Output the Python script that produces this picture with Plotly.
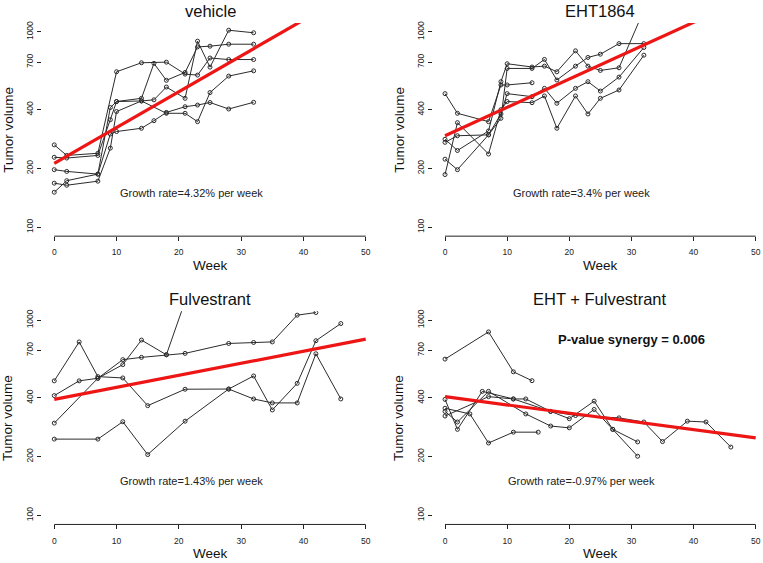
import numpy as np
import plotly.graph_objects as go

W, H = 763, 563

# ---------------- data ----------------
panel_titles = ["vehicle", "EHT1864", "Fulvestrant", "EHT + Fulvestrant"]
growth_rates = [4.32, 3.4, 1.43, -0.97]          # % per week
fit_start = [212, 294, 393, 406]                 # fitted volume at week 0

vehicle_weeks = [
    [0, 2, 7, 10, 14, 18, 21, 23, 25, 28, 32],
    [0, 2, 7, 9, 10, 14, 16, 18, 21, 23, 25, 28, 32],
    [0, 2, 7, 9, 10, 14, 16, 18, 21, 23, 25, 28, 32],
    [0, 2, 7, 9, 10, 14, 18, 21, 23, 25, 28, 32],
    [0, 2, 7, 9, 10, 14, 16, 18, 21, 23, 25, 28, 32],
]
vehicle_vols = [
    [264, 233, 239, 625, 695, 700, 608, 601, 735, 722, 722],
    [228, 226, 233, 355, 440, 457, 690, 565, 620, 838, 845, 865, 865],
    [197, 193, 187, 410, 440, 443, 449, 522, 457, 897, 660, 1020, 990],
    [168, 164, 172, 254, 391, 443, 383, 383, 347, 489, 594, 632],
    [151, 173, 187, 300, 309, 321, 351, 387, 414, 422, 435, 403, 436],
]

eht_weeks = [
    [0, 2, 7, 9, 10, 14, 16, 18, 21, 23, 25, 28, 32],
    [0, 2, 7, 9, 10, 14],
    [0, 2, 7, 9, 10, 14, 16, 18, 21, 23, 25, 28, 32],
    [0, 2, 7, 9, 10, 14, 16, 18, 21, 23, 25, 28, 32],
    [0, 2, 7, 9, 10, 14, 16, 18, 21, 23, 25, 28, 32],
]
eht_vols = [
    [272, 294, 297, 361, 650, 650, 723, 567, 668, 740, 769, 871, 871],
    [483, 383, 347, 535, 535, 549],
    [282, 247, 311, 556, 687, 661, 668, 625, 800, 668, 635, 655, 1290],
    [223, 197, 297, 380, 483, 466, 514, 431, 514, 556, 498, 587, 832],
    [186, 343, 237, 400, 440, 434, 470, 321, 470, 380, 457, 504, 760],
]

fulv_weeks = [
    [0, 4, 7, 11, 14, 18, 21, 28, 32, 35, 39, 42],
    [0, 4, 7, 11, 15, 21, 28, 32, 35, 39, 42, 46],
    [0, 7, 11, 14, 18, 21],
    [0, 7, 11, 15, 21, 28, 32, 35, 39, 42, 46],
]
fulv_vols = [
    [411, 489, 504, 628, 645, 665, 676, 760, 769, 774, 1061, 1094],
    [489, 774, 514, 506, 365, 443, 444, 395, 377, 377, 673, 395],
    [297, 504, 592, 791, 665, 1250],
    [246, 246, 302, 205, 304, 444, 518, 347, 475, 785, 961],
]

combo_weeks = [
    [0, 7, 11, 14],
    [0, 4, 7, 11, 15],
    [0, 2, 6, 11, 13, 17, 20, 24, 27, 31],
    [0, 2, 7, 13, 17, 20, 24, 27, 31],
    [0, 7, 11, 17, 21, 28, 32, 35, 39, 42, 46],
]
combo_vols = [
    [632, 871, 544, 490],
    [354, 331, 235, 267, 267],
    [393, 276, 432, 395, 395, 341, 313, 385, 276, 201],
    [341, 301, 432, 331, 287, 281, 349, 276, 238],
    [323, 406, 395, 341, 325, 316, 301, 239, 304, 301, 224],
]

x_ticks = [0, 10, 20, 30, 40, 50]
y_ticks = [100, 200, 400, 700, 1000]
pvalue_text = "P-value synergy = 0.006"

panels_weeks = [vehicle_weeks, eht_weeks, fulv_weeks, combo_weeks]
panels_vols = [vehicle_vols, eht_vols, fulv_vols, combo_vols]

# ---------------- layout geometry (pixels) ----------------
col_px = [(41.8, 378.2), (432.6, 763.0)]
col_range = [(-2, 52), (-2, (763.0 - 445.0) / 6.214)]
col_center = [210.0, 600.4]
row_px = [(21.0, 235.0), (310.3, 524.3)]
y_range = [1.954, 3.046]

FONT = "Liberation Sans, Arial, sans-serif"
LINE_COL = "#2b2b2b"

fig = go.Figure()
layout = dict(
    width=W, height=H, margin=dict(l=0, r=0, t=0, b=0),
    paper_bgcolor="white", plot_bgcolor="white", showlegend=False,
    font=dict(family=FONT, color="#222"),
)
shapes, annotations = [], []

for i in range(4):
    r, c = divmod(i, 2)
    xname = "x" if i == 0 else f"x{i+1}"
    yname = "y" if i == 0 else f"y{i+1}"
    xl = "xaxis" if i == 0 else f"xaxis{i+1}"
    yl = "yaxis" if i == 0 else f"yaxis{i+1}"
    x0p, x1p = col_px[c]
    y0p, y1p = row_px[r]
    layout[xl] = dict(
        domain=[x0p / W, x1p / W], range=list(col_range[c]), anchor=yname,
        showgrid=False, zeroline=False, showline=False,
        tickvals=x_ticks, ticks="outside", ticklen=4, tickcolor="#222",
        tickfont=dict(size=8.5, color="#222"), ticklabelstandoff=4,
        ticklabeloverflow="allow",
    )
    layout[yl] = dict(
        domain=[1 - y1p / H, 1 - y0p / H], range=y_range, type="log", anchor=xname,
        showgrid=False, zeroline=False, showline=False,
        tickvals=y_ticks, ticktext=[str(v) for v in y_ticks], tickangle=-90,
        ticks="outside", ticklen=4, tickcolor="#222",
        tickfont=dict(size=8.5, color="#222"), ticklabeloverflow="allow",
    )
    # R-style axis lines spanning first to last tick
    shapes.append(dict(type="line", xref=xname, yref=f"{yname} domain",
                       x0=x_ticks[0], x1=x_ticks[-1], y0=0, y1=0,
                       line=dict(color="#222", width=1)))
    shapes.append(dict(type="line", xref=f"{xname} domain", yref=yname,
                       x0=0, x1=0, y0=np.log10(y_ticks[0]), y1=np.log10(y_ticks[-1]),
                       line=dict(color="#222", width=1)))

    for wk, vol in zip(panels_weeks[i], panels_vols[i]):
        fig.add_trace(go.Scatter(
            x=wk, y=vol, mode="lines+markers", xaxis=xname, yaxis=yname,
            line=dict(color=LINE_COL, width=1),
            marker=dict(symbol="circle-open", size=4, color=LINE_COL,
                        line=dict(width=1, color=LINE_COL)),
            hoverinfo="x+y",
        ))
    t = np.arange(0, 51)
    fit = fit_start[i] * (1 + growth_rates[i] / 100.0) ** t
    fig.add_trace(go.Scatter(
        x=t, y=fit, mode="lines", xaxis=xname, yaxis=yname,
        line=dict(color="#ee1515", width=3.2), hoverinfo="skip",
    ))

    cx = col_center[c]
    annotations.append(dict(text=panel_titles[i], xref="paper", yref="paper",
                            x=cx / W, y=1 - (y0p - 11.8) / H, showarrow=False,
                            xanchor="center", yanchor="middle",
                            font=dict(size=16.5, color="#111")))
    annotations.append(dict(text="Tumor volume", xref="paper", yref="paper",
                            x=(x0p - 33.5) / W, y=1 - ((y0p + y1p) / 2) / H,
                            textangle=-90, showarrow=False,
                            xanchor="center", yanchor="middle",
                            font=dict(size=13.5, color="#111")))
    annotations.append(dict(text="Week", xref="paper", yref="paper",
                            x=cx / W, y=1 - (y1p + 29.5) / H, showarrow=False,
                            xanchor="center", yanchor="middle",
                            font=dict(size=13.5, color="#111")))
    annotations.append(dict(text=f"Growth rate={growth_rates[i]}% per week",
                            xref=xname, yref=yname, x=22, y=np.log10(150),
                            showarrow=False, xanchor="center", yanchor="middle",
                            font=dict(size=11, color="#222")))

annotations.append(dict(text=f"<b>{pvalue_text}</b>", xref="x4", yref="y4",
                        x=30, y=np.log10(800), showarrow=False,
                        xanchor="center", yanchor="middle",
                        font=dict(size=13, color="#111")))

layout["shapes"] = shapes
layout["annotations"] = annotations
fig.update_layout(**layout)
fig.write_html("out.html", config={"displayModeBar": False},
               post_script="document.body.style.margin='0px';document.body.style.overflow='hidden';")
